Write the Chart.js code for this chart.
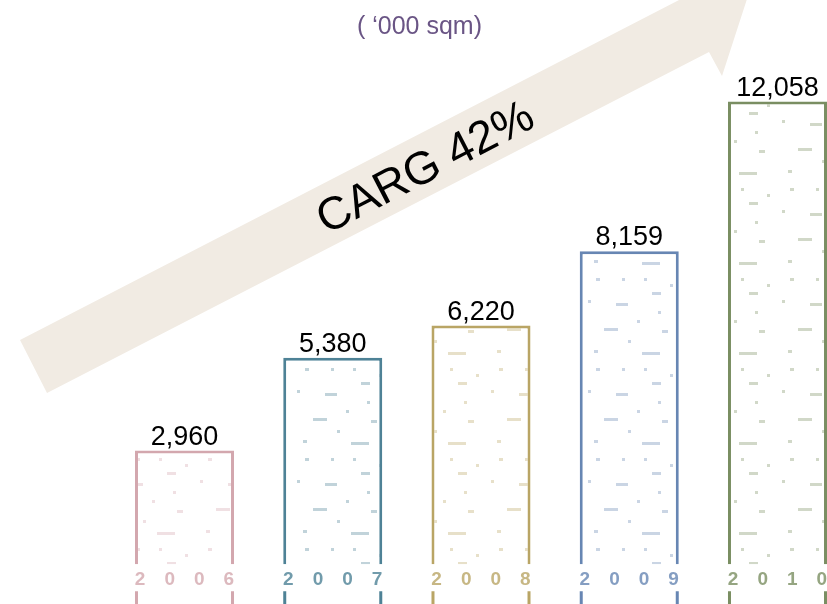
<!DOCTYPE html>
<html>
<head>
<meta charset="utf-8">
<style>
  html, body { margin: 0; padding: 0; background: #ffffff; }
  #wrap { width: 827px; height: 604px; position: relative; }
</style>
<script src="https://cdn.jsdelivr.net/npm/chart.js@4.4.1/dist/chart.umd.min.js"></script>
</head>
<body>
<div id="wrap"><canvas id="c" width="827" height="604"></canvas></div>
<script>
// ---- data ----
const categories = ['2006', '2007', '2008', '2009', '2010'];
const areaValues = [2960, 5380, 6220, 8159, 12058];
const barColors = ['#D3A7AE', '#4E8296', '#B9A565', '#6786B3', '#7A8E62'];
const unitTitle = '( \u2018000 sqm)';
const growthLabel = 'CARG 42%';

// ---- decorative helpers ----
function makeTexture(color) {
  const c = document.createElement('canvas');
  c.width = 97; c.height = 90;
  const g = c.getContext('2d');
  g.fillStyle = '#ffffff';
  g.fillRect(0, 0, 97, 90);
  g.globalAlpha = 0.35;
  g.fillStyle = color;
  const specks = [[14,8,4,3],[40,8,3,3],[62,8,3,3],[70,22,9,3],[6,30,3,3],[34,33,12,3],[76,41,3,3],
                  [55,50,3,3],[22,58,14,3],[80,60,6,3],[46,70,3,3],[12,80,4,3],[60,82,18,3],[88,14,3,3]];
  specks.forEach(s => g.fillRect(s[0], s[1], s[2], s[3]));
  return g.createPattern(c, 'repeat');
}

function withAlpha(hex, a) {
  const n = parseInt(hex.slice(1), 16);
  return 'rgba(' + ((n >> 16) & 255) + ',' + ((n >> 8) & 255) + ',' + (n & 255) + ',' + a + ')';
}

const decorPlugin = {
  id: 'decor',
  beforeDatasetsDraw(chart) {
    const ctx = chart.ctx;
    // background growth arrow
    ctx.save();
    ctx.fillStyle = '#F1EBE3';
    ctx.beginPath();
    ctx.moveTo(20, 340);
    ctx.lineTo(47, 393);
    ctx.lineTo(709, 52);
    ctx.lineTo(722, 76);
    ctx.lineTo(747, -1);
    ctx.lineTo(669, -25);
    ctx.lineTo(681, -1);
    ctx.closePath();
    ctx.fill();
    // arrow text
    ctx.translate(426, 169);
    ctx.rotate(-27.3 * Math.PI / 180);
    ctx.fillStyle = '#000000';
    ctx.font = '46px "Liberation Sans", Arial, sans-serif';
    ctx.textAlign = 'center';
    ctx.textBaseline = 'middle';
    ctx.fillText(growthLabel, 0, 0);
    ctx.restore();
    // unit title
    ctx.save();
    ctx.fillStyle = '#6A5585';
    ctx.font = '25px "Liberation Sans", Arial, sans-serif';
    ctx.textAlign = 'center';
    ctx.textBaseline = 'middle';
    ctx.fillText(unitTitle, 419.5, 27);
    ctx.restore();
  },
  afterDatasetsDraw(chart) {
    const ctx = chart.ctx;
    const meta = chart.getDatasetMeta(0);
    ctx.save();
    meta.data.forEach((bar, i) => {
      const p = bar.getProps(['x', 'y', 'width', 'base'], true);
      const left = p.x - p.width / 2;
      const right = p.x + p.width / 2;
      // bar outline continuing below the year labels
      ctx.strokeStyle = barColors[i];
      ctx.lineWidth = 3;
      ctx.beginPath();
      ctx.moveTo(left + 1.5, p.base + 27);
      ctx.lineTo(left + 1.5, chart.height);
      ctx.moveTo(right - 1.5, p.base + 27);
      ctx.lineTo(right - 1.5, chart.height);
      ctx.stroke();
      // value label
      ctx.fillStyle = '#000000';
      ctx.font = '27px "Liberation Sans", Arial, sans-serif';
      ctx.textAlign = 'center';
      ctx.textBaseline = 'alphabetic';
      ctx.fillText(areaValues[i].toLocaleString('en-US'), p.x, p.y - 6);
    });
    ctx.restore();
  }
};

new Chart(document.getElementById('c'), {
  type: 'bar',
  data: {
    labels: categories,
    datasets: [{
      data: areaValues,
      backgroundColor: barColors.map(makeTexture),
      borderColor: barColors,
      borderWidth: { top: 3, left: 3, right: 3, bottom: 0 },
      borderSkipped: 'start',
      categoryPercentage: 0.8,
      barPercentage: 0.835,
      clip: false
    }]
  },
  options: {
    responsive: false,
    animation: false,
    devicePixelRatio: 1,
    layout: { padding: { left: 184.5, right: 49.5, top: 27, bottom: 9 } },
    plugins: {
      legend: { display: false },
      tooltip: { enabled: false },
      title: { display: false }
    },
    scales: {
      x: {
        offset: false,
        grid: { display: false, drawTicks: false },
        border: { display: false },
        afterFit: (scale) => { scale.paddingLeft = 0; scale.paddingRight = 0; },
        ticks: {
          padding: 4,
          autoSkip: false,
          maxRotation: 0,
          color: (ctx) => withAlpha(barColors[ctx.index] || '#888888', 0.8),
          font: { family: '"Liberation Sans", Arial, sans-serif', size: 19, weight: 'bold' },
          callback: (value, index) => categories[index].split('').join('\u2002\u2002')
        }
      },
      y: { display: false, min: 0, max: 14000 }
    }
  },
  plugins: [decorPlugin]
});
</script>
</body>
</html>
